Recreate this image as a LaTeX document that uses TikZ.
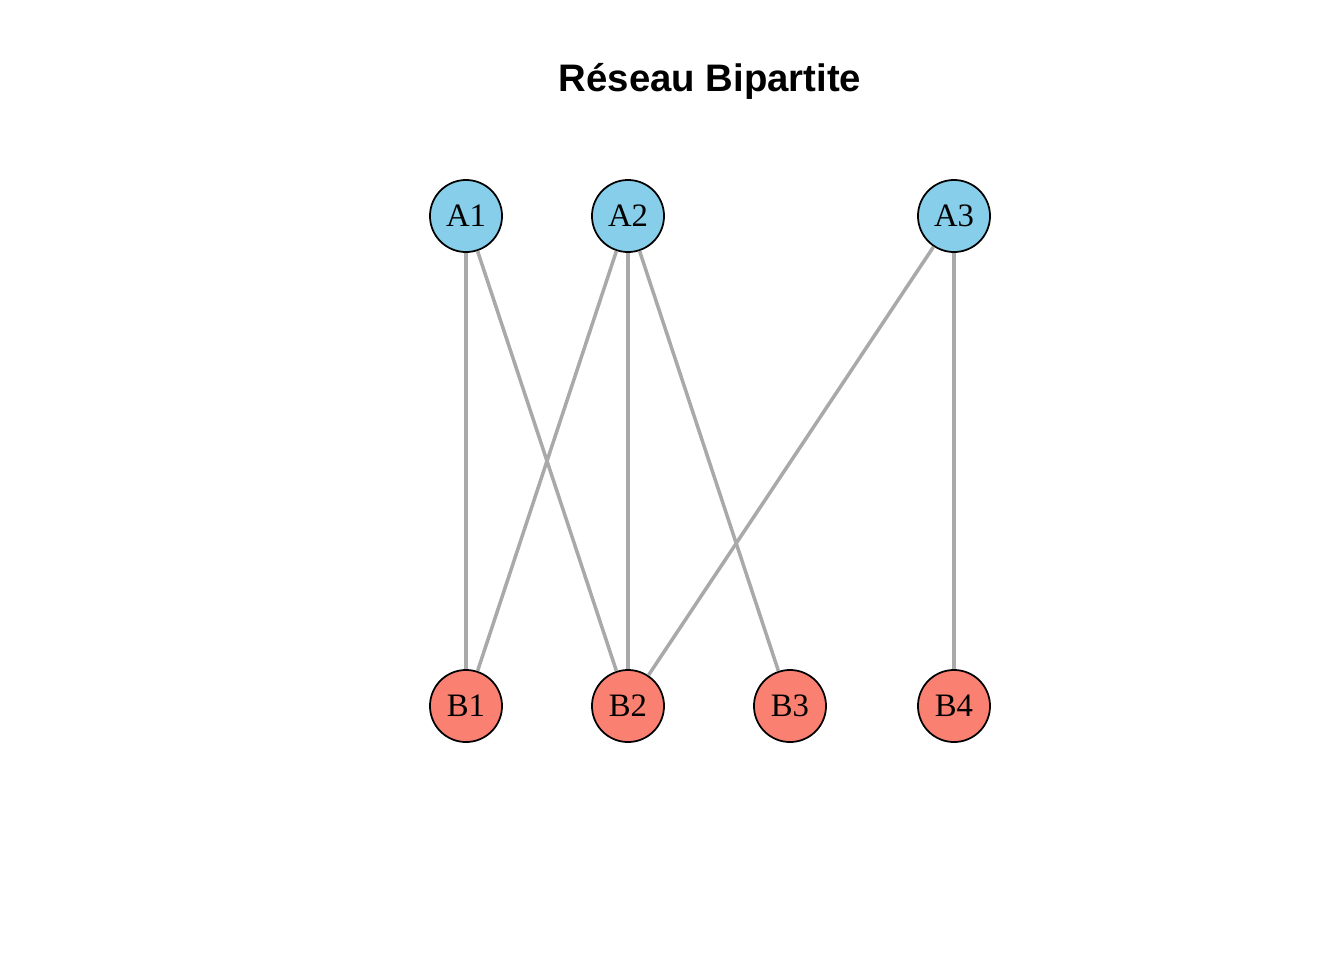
\documentclass[tikz,border=0pt]{standalone}
\usepackage{fontspec}
\setmainfont{Liberation Serif}
\newfontfamily\titlefont{Liberation Sans}
\definecolor{bleuA}{HTML}{87CEEB}
\definecolor{saumonB}{HTML}{FA8072}
\definecolor{arete}{HTML}{A9A9A9}
\begin{document}
\begin{tikzpicture}[x=0.01cm,y=-0.01cm,
  sommet/.style={circle,draw=black,line width=0.5pt,minimum size=0.72cm,inner sep=0pt,font=\fontsize{9.3}{11}\selectfont},
  lien/.style={draw=arete,line width=1pt}]
  \useasboundingbox (0,0) rectangle (1344,960);
  % Titre
  \node[font=\titlefont\bfseries\fontsize{10.9}{13}\selectfont] (titre) at (710,81) {Réseau Bipartite};
  % Ensemble A
  \node[sommet,fill=bleuA] (A1) at (466,216) {A1};
  \node[sommet,fill=bleuA] (A2) at (628,216) {A2};
  \node[sommet,fill=bleuA] (A3) at (954,216) {A3};
  % Ensemble B
  \node[sommet,fill=saumonB] (B1) at (466,706) {B1};
  \node[sommet,fill=saumonB] (B2) at (628,706) {B2};
  \node[sommet,fill=saumonB] (B3) at (790,706) {B3};
  \node[sommet,fill=saumonB] (B4) at (954,706) {B4};
  % Liens
  \draw[lien] (A1) -- (B1);
  \draw[lien] (A1) -- (B2);
  \draw[lien] (A2) -- (B1);
  \draw[lien] (A2) -- (B2);
  \draw[lien] (A2) -- (B3);
  \draw[lien] (A3) -- (B2);
  \draw[lien] (A3) -- (B4);
\end{tikzpicture}
\end{document}
